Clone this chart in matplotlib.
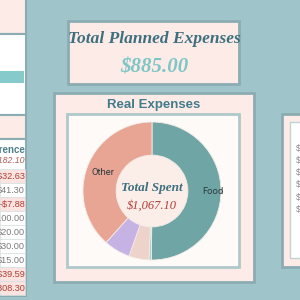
import matplotlib
matplotlib.use('Agg')
import matplotlib.pyplot as plt
from matplotlib.patches import Rectangle

# data
planned_total = 885.00
pie_labels = ['Food', '', '', '', 'Other']
pie_spent = [535.00, 6.10, 50.00, 66.00, 410.00]
pie_colors = ['#6FA6A5', '#A3D3CE', '#EDD3CA', '#C6B3E4', '#E8A594']
differences = [-32.63, 41.30, -7.88, 100.00, 20.00, 30.00, 15.00, -39.59, -308.30]

bg = '#9FC4CA'
pink = '#FCEBE6'
edge = '#8AACB2'
teal_txt = '#3D6F7F'
red_txt = '#B43C36'
script_font = 'Liberation Serif'


def money(v):
    s = '${:,.2f}'.format(abs(v))
    return '-' + s if v < 0 else s


fig = plt.figure(figsize=(3, 3), dpi=100)
fig.patch.set_facecolor(bg)
ax = fig.add_axes([0, 0, 1, 1])
ax.set_xlim(0, 300)
ax.set_ylim(300, 0)
ax.axis('off')


def box(x0, y0, x1, y1, fc, ec=edge, lw=1.5, z=1):
    ax.add_patch(Rectangle((x0, y0), x1 - x0, y1 - y0, facecolor=fc,
                           edgecolor=ec, linewidth=lw, zorder=z))


# left table panel (only its right edge is in view)
box(-3, -3, 26, 34, pink)
box(-3, 34, 26, 115, 'white')
box(-3, 71, 24, 83, '#86CACB', ec='none', z=2)
box(-3, 115, 26, 139, pink)
box(-3, 139, 26, 296, 'white')
ax.text(25, 150, 'Difference', ha='right', va='center', fontsize=7,
        fontweight='bold', color='#4F7E8C', family='Liberation Sans')
ax.text(25, 160, money(sum(differences)), ha='right', va='center', fontsize=6.3,
        style='italic', color='#B0605A', family='Liberation Sans')
row_top = 169
for i, v in enumerate(differences):
    y0 = row_top + i * 14
    fc = '#FBE4DF' if v < 0 else 'white'
    box(0, y0, 25, y0 + 14, fc, ec='#D5DFE0', lw=0.5, z=2)
    ax.text(25, y0 + 7.5, money(v), ha='right', va='center', fontsize=6.6,
            color=red_txt if v < 0 else '#7A7A7A', family='Liberation Sans',
            zorder=3, clip_on=True)

# planned expenses box
box(68, 21, 239, 84, pink, lw=2)
ax.text(154, 39, 'Total Planned Expenses', ha='center', va='center',
        fontsize=12.5, fontweight='bold', style='italic', color=teal_txt,
        family=script_font)
ax.text(154, 68, money(planned_total), ha='center', va='center', fontsize=15,
        fontweight='bold', style='italic', color='#7FC6C6', family=script_font)

# real expenses panel
box(54, 93, 254, 282, pink, lw=2)
ax.text(154, 105, 'Real Expenses', ha='center', va='center', fontsize=9.5,
        fontweight='bold', color='#427B8B', family='Liberation Sans')
box(67, 114, 239, 267, '#FEFAF8', ec='#AFC8CB', lw=2, z=2)

# right panel
box(282, 114, 305, 267, pink, lw=2)
box(290, 122, 305, 258, 'white', ec='#C2D3D5', lw=1, z=2)
for k in range(6):
    ax.text(296, 148 + k * 12.3, '$', ha='left', va='center', fontsize=6.3,
            color='#8A8A8A', family='Liberation Sans', zorder=3)

# donut
cx, cy, r = 152, 191, 69
pax = fig.add_axes([(cx - r) / 300, (300 - cy - r) / 300, 2 * r / 300, 2 * r / 300])
pax.pie(pie_spent, colors=pie_colors, startangle=90, counterclock=False,
        radius=1, wedgeprops=dict(width=0.48, edgecolor='#F4ECE8', linewidth=0.6))
pax.set_xlim(-1, 1)
pax.set_ylim(-1, 1)
pax.set_zorder(5)
pax.add_patch(plt.Circle((0, 0), 0.52, color='#FBEDE8', zorder=0))
pax.text(0.88, 0, pie_labels[0], ha='center', va='center', fontsize=6.8,
         color='#2E3B3E', family='Roboto')
pax.text(-0.71, 0.27, pie_labels[4], ha='center', va='center', fontsize=6.8,
         color='#2E3B3E', family='Roboto')
pax.text(0, 0.04, 'Total Spent', ha='center', va='center', fontsize=9.5,
         fontweight='bold', style='italic', color=teal_txt, family=script_font)
pax.text(0, -0.22, money(sum(pie_spent)), ha='center', va='center', fontsize=9,
         style='italic', color=red_txt, family=script_font)

fig.savefig('out.png', dpi=100, facecolor=bg)
